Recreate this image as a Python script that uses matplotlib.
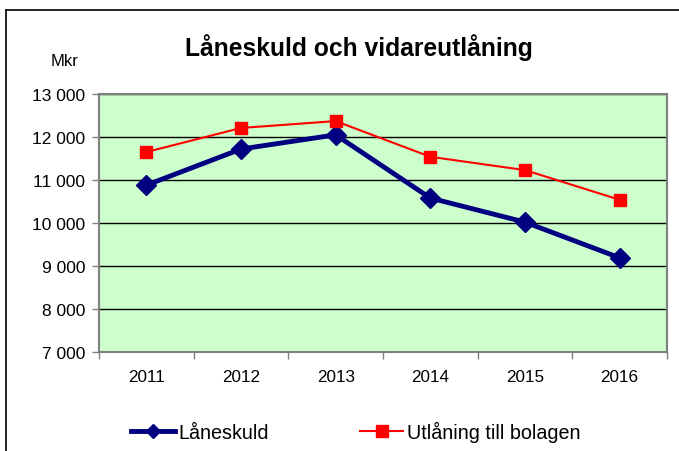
import matplotlib.pyplot as plt
from matplotlib.lines import Line2D

plt.rcParams['font.family'] = ['Liberation Sans', 'DejaVu Sans']

years = ['2011', '2012', '2013', '2014', '2015', '2016']
laneskuld = [10880, 11720, 12050, 10580, 10020, 9190]
utlaning = [11650, 12210, 12370, 11540, 11230, 10540]
yticks = [7000, 8000, 9000, 10000, 11000, 12000, 13000]

W, H = 679, 452
fig = plt.figure(figsize=(W / 100, H / 100), dpi=100)

# outer frame (top and left visible)
fig.add_artist(Line2D([6 / W, 6 / W], [0, 1 - 11 / H], color='black', lw=1.2))
fig.add_artist(Line2D([6 / W, 1], [1 - 11 / H, 1 - 11 / H], color='black', lw=1.2))

ax = fig.add_axes([99 / W, 1 - 353 / H, (667 - 99) / W, (353 - 95) / H])
ax.set_facecolor('#ccffcc')
x = range(len(years))
ax.plot(x, laneskuld, color='#000080', lw=3.5, marker='D', ms=10, zorder=3)
ax.plot(x, utlaning, color='#ff0000', lw=1.5, marker='s', ms=9, zorder=3)

ax.set_xlim(-0.5, len(years) - 0.5)
ax.set_ylim(7000, 13000)
ax.set_yticks(yticks)
ax.set_yticklabels([f'{v:,}'.replace(',', ' ') for v in yticks], fontsize=12.5)
ax.yaxis.grid(True, color='black', lw=1)
ax.set_axisbelow(True)
ax.set_xticks([i + 0.5 for i in range(-1, len(years))])
ax.set_xticklabels([])
ax.set_xticks(list(x), minor=True)
ax.set_xticklabels(years, minor=True, fontsize=12.3)
ax.tick_params(axis='x', which='minor', length=0, pad=12)
ax.tick_params(axis='x', which='major', length=5, color='#808080', width=1)
ax.tick_params(axis='y', length=5, color='#808080', width=1, pad=5)
for s in ax.spines.values():
    s.set_color('#808080')
    s.set_linewidth(1.5)

fig.text(359 / W, 1 - 48 / H, 'Låneskuld och vidareutlåning', ha='center', va='center',
         fontsize=17.7, fontweight='bold')
fig.text(65 / W, 1 - 62 / H, 'Mkr', ha='center', va='center', fontsize=12)

handles = [Line2D([], [], color='#000080', lw=3.5, marker='D', ms=7),
           Line2D([], [], color='#ff0000', lw=1.5, marker='s', ms=8)]
fig.legend(handles, ['Låneskuld', 'Utlåning till bolagen'], loc='center',
           bbox_to_anchor=(356 / W, 1 - 432 / H), ncol=2, frameon=False, fontsize=14.2,
           handlelength=2.2, handletextpad=0.2, columnspacing=4.6)

fig.savefig('out.png', dpi=100)
